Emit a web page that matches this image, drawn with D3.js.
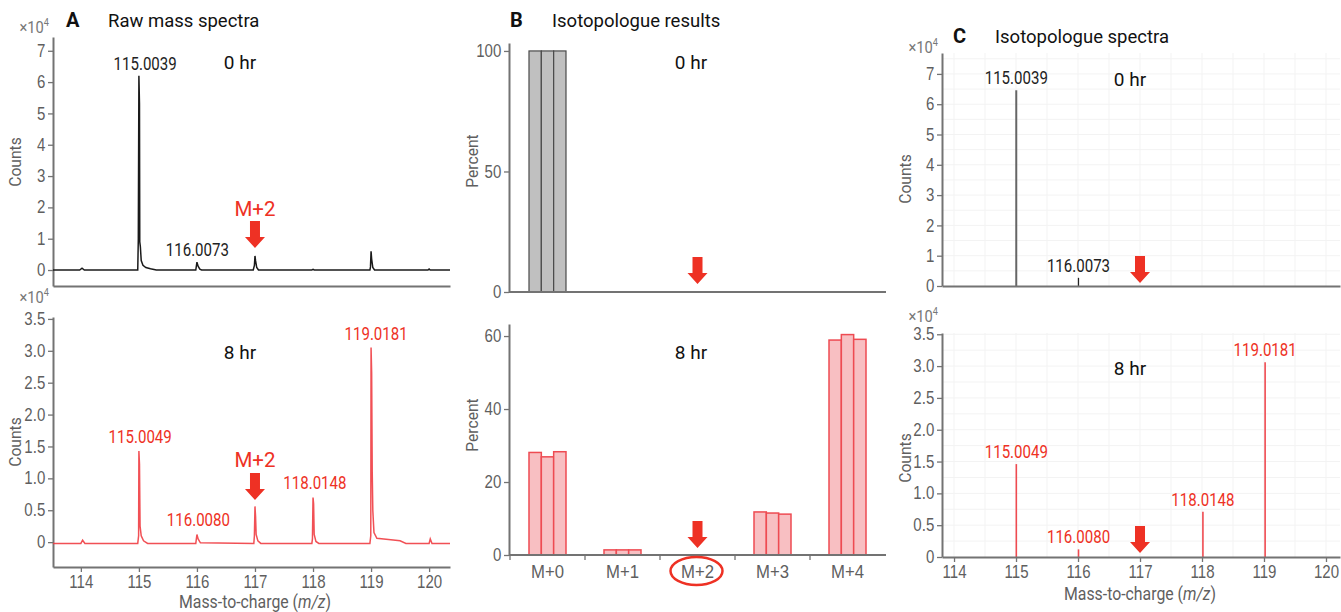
<!DOCTYPE html>
<html>
<head>
<meta charset="utf-8">
<script src="https://cdn.jsdelivr.net/npm/d3@7"></script>
<style>
  body { margin: 0; background: #fff; }
  svg { font-family: Roboto, "Liberation Sans", sans-serif; }
</style>
</head>
<body>
<div id="chart"></div>
<script>
// ---- data (m/z, counts x10^4) ----
const rawProfile0 = [
  [113.52, 0], [113.98, 0], [114.02, 0.06], [114.06, 0], [114.98, 0], [114.99, 1.0],
  [115.0, 6.2], [115.01, 5.3], [115.015, 0.9], [115.025, 0.75], [115.04, 0.3],
  [115.07, 0.15], [115.12, 0.08], [115.2, 0.04], [115.3, 0], [115.98, 0], [116.0, 0.25],
  [116.02, 0.12], [116.05, 0.03], [116.08, 0], [116.97, 0], [116.99, 0.15], [117.0, 0.45],
  [117.01, 0.3], [117.03, 0.08], [117.06, 0], [117.98, 0], [118.0, 0.02], [118.02, 0],
  [118.98, 0], [118.99, 0.1], [119.0, 0.6], [119.01, 0.35], [119.03, 0.08], [119.06, 0],
  [119.98, 0], [120.0, 0.03], [120.02, 0], [120.36, 0]
];
const rawProfile8 = [
  [113.52, -0.02], [114.0, -0.02], [114.03, 0.03], [114.07, -0.02], [114.98, -0.02],
  [114.995, 0.1], [115.0, 1.43], [115.01, 1.22], [115.02, 0.25], [115.04, 0.1],
  [115.08, 0.02], [115.15, -0.02], [115.98, -0.02], [116.0, 0.12], [116.02, 0.05],
  [116.06, -0.01], [116.98, -0.02], [116.99, 0.1], [117.0, 0.56], [117.01, 0.4],
  [117.02, 0.12], [117.05, 0.02], [117.1, -0.02], [117.98, -0.02], [117.99, 0.05],
  [118.0, 0.7], [118.01, 0.6], [118.02, 0.12], [118.05, 0.01], [118.1, -0.02],
  [118.98, -0.02], [118.995, 0.1], [119.0, 3.05], [119.01, 2.65], [119.02, 1.1],
  [119.03, 0.5], [119.05, 0.15], [119.1, 0.06], [119.3, 0.04], [119.5, 0.02],
  [119.6, -0.02], [120.0, -0.02], [120.02, 0.05], [120.05, -0.02], [120.36, -0.02]
];
const rawLabels0 = [[115.0039, 6.2], [116.0073, 0.25]];
const rawLabels8 = [[115.0049, 1.43], [116.0080, 0.12], [118.0148, 0.7], [119.0181, 3.05]];

const isotopologues = ["M+0", "M+1", "M+2", "M+3", "M+4"];
const percent0 = [[100, 100, 100], [0, 0, 0], [0, 0, 0], [0, 0, 0], [0, 0, 0]];
const percent8 = [[28.1, 26.9, 28.3], [1.4, 1.4, 1.4], [0, 0, 0], [11.8, 11.5, 11.2], [58.9, 60.4, 59.1]];

const sticks0 = [[115.0039, 6.46], [116.0073, 0.27]];
const sticks8 = [[115.0049, 1.46], [116.0080, 0.12], [118.0148, 0.71], [119.0181, 3.06]];

const mzTicks = [114, 115, 116, 117, 118, 119, 120];
const countTicks0 = [0, 1, 2, 3, 4, 5, 6, 7];
const countTicks8 = [0, 0.5, 1.0, 1.5, 2.0, 2.5, 3.0, 3.5];

// ---- setup ----
const W = 1341, H = 612;
const RED = "#ee3124", AXIS = "#737373", TICKTXT = "#5f5f5f";
const SQ = 0.86; // horizontal squeeze, the original uses a condensed face
const svg = d3.select("#chart").append("svg").attr("width", W).attr("height", H);

const fmtCount = d => d === 0 ? "0" : d.toFixed(1);

function styleAxis(g, size) {
  g.select(".domain").attr("stroke", AXIS).attr("stroke-width", 2);
  g.selectAll(".tick line").attr("stroke", AXIS).attr("stroke-width", 1.3);
  g.selectAll(".tick text").attr("fill", TICKTXT).style("font-size", (size || 17.5) + "px")
    .attr("transform", `scale(${SQ},1)`);
}
function yAxis(y, x0, ticks, fmt) {
  const g = svg.append("g").attr("transform", `translate(${x0},0)`)
    .call(d3.axisLeft(y).tickValues(ticks).tickFormat(fmt).tickSize(5).tickPadding(4).tickSizeOuter(0));
  styleAxis(g);
}
function xAxisLine(x, y0, ticks) {
  const g = svg.append("g").attr("transform", `translate(0,${y0})`)
    .call(d3.axisBottom(x).tickValues(ticks).tickFormat(d3.format("d")).tickSize(5).tickPadding(4).tickSizeOuter(0));
  styleAxis(g);
}
function yLabel(text, x, y) {
  svg.append("text").attr("transform", `translate(${x},${y}) rotate(-90) scale(0.92,1)`)
    .attr("text-anchor", "middle").attr("fill", TICKTXT).style("font-size", "17px").text(text);
}
function exponent(x, y) {
  const t = svg.append("text").attr("transform", `translate(${x},${y}) scale(0.92,1)`).attr("text-anchor", "end")
    .attr("fill", "#777").style("font-size", "16px");
  t.append("tspan").text("×10");
  t.append("tspan").attr("dy", -7).style("font-size", "10px").text("4");
}
function label(text, x, y, color, size, sq) {
  return svg.append("text").attr("transform", `translate(${x},${y}) scale(${sq || 1},1)`)
    .attr("text-anchor", "middle").attr("fill", color).style("font-size", size + "px").text(text);
}
function arrow(cx, tipY) {
  const sw = 5, hw = 10, len = 27, hh = 11;
  const p = [[cx - sw, tipY - len], [cx + sw, tipY - len], [cx + sw, tipY - hh], [cx + hw, tipY - hh],
             [cx, tipY], [cx - hw, tipY - hh], [cx - sw, tipY - hh]];
  svg.append("path").attr("d", d3.line()(p) + "Z").attr("fill", RED);
}
function title(letter, text, x, y) {
  svg.append("text").attr("x", x).attr("y", y).attr("fill", "#111")
    .style("font-size", "20px").style("font-weight", "bold").text(letter);
  svg.append("text").attr("x", x + 42).attr("y", y).attr("fill", "#111")
    .style("font-size", "18.5px").text(text);
}
function massLabel(cx, y) {
  const t = svg.append("text").attr("transform", `translate(${cx},${y}) scale(0.88,1)`).attr("text-anchor", "middle")
    .attr("fill", TICKTXT).style("font-size", "18px");
  t.append("tspan").text("Mass-to-charge (");
  t.append("tspan").style("font-style", "italic").text("m/z");
  t.append("tspan").text(")");
}

// ---- Panel A: raw mass spectra ----
const xA = d3.scaleLinear().domain([113.52, 120.36]).range([53, 450]);
const yA0 = d3.scaleLinear().domain([-0.51, 7.44]).range([286, 37]);
const yA8 = d3.scaleLinear().domain([-0.39, 3.53]).range([567, 317]);

title("A", "Raw mass spectra", 66, 27);

yAxis(yA0, 53, countTicks0, d3.format("d"));
xAxisLine(xA, 286, []);
svg.append("path").datum(rawProfile0)
  .attr("d", d3.line().x(d => xA(d[0])).y(d => yA0(d[1])))
  .attr("fill", "none").attr("stroke", "#1a1a1a").attr("stroke-width", 1.5);
rawLabels0.forEach(d => label(d[0].toFixed(4), xA(d[0]) + (d[1] > 1 ? 6 : 0), yA0(d[1]) - 6, "#222", 17.5, SQ));
label("0 hr", 240, 69, "#111", 19);
label("M+2", xA(117), 216, RED, 20.5);
arrow(xA(117), 248);
yLabel("Counts", 21, 162);
exponent(49, 33);

yAxis(yA8, 53, countTicks8, fmtCount);
xAxisLine(xA, 567, mzTicks);
svg.append("path").datum(rawProfile8)
  .attr("d", d3.line().x(d => xA(d[0])).y(d => yA8(d[1])))
  .attr("fill", "none").attr("stroke", "#ef3d42").attr("stroke-width", 1.5).attr("opacity", 0.9);
rawLabels8.forEach(d => label(d[0].toFixed(4), xA(d[0]) + (d[1] > 2 ? 4 : 1), yA8(d[1]) - 8, RED, 17.5, SQ));
label("8 hr", 240, 359, "#111", 19);
label("M+2", xA(117), 467, RED, 20.5);
arrow(xA(117), 500);
yLabel("Counts", 21, 442);
exponent(49, 303);
massLabel(255, 608);

// ---- Panel B: isotopologue results ----
const xB = d3.scaleBand().domain(isotopologues).range([510, 885]).paddingInner(0.5067).paddingOuter(0.2533);
const xB1 = d3.scaleBand().domain([0, 1, 2]).range([0, xB.bandwidth()]);
const yB0 = d3.scaleLinear().domain([0, 103.3]).range([292, 43]);
const yB8 = d3.scaleLinear().domain([0, 63.3]).range([555, 324]);

title("B", "Isotopologue results", 510, 27);

function bars(data, y, fill, stroke, sw) {
  const g = svg.append("g");
  isotopologues.forEach((cat, i) => {
    data[i].forEach((v, j) => {
      if (v <= 0) return;
      g.append("rect")
        .attr("x", xB(cat) + xB1(j)).attr("width", xB1.bandwidth())
        .attr("y", y(v)).attr("height", y(0) - y(v))
        .attr("fill", fill).attr("stroke", stroke).attr("stroke-width", sw);
    });
  });
}

bars(percent0, yB0, "#c0c0c0", "#4a4a4a", 1.2);
yAxis(yB0, 509, [0, 50, 100], d3.format("d"));
svg.append("line").attr("x1", 509).attr("x2", 886).attr("y1", yB0(0)).attr("y2", yB0(0))
  .attr("stroke", AXIS).attr("stroke-width", 2);
label("0 hr", 691, 69, "#111", 19);
arrow(xB("M+2") + xB.bandwidth() / 2, 284);
yLabel("Percent", 478, 161);

bars(percent8, yB8, "#f8bfc2", "#ee4b52", 1.5);
yAxis(yB8, 509, [0, 20, 40, 60], d3.format("d"));
const gB = svg.append("g").attr("transform", `translate(0,${yB8(0)})`)
  .call(d3.axisBottom(xB).tickSize(0).tickPadding(10));
styleAxis(gB, 18);
gB.selectAll(".tick text").attr("transform", "scale(0.93,1)");
gB.select(".domain").attr("d", `M509,0H886`);
const step = xB.step();
isotopologues.forEach(cat => {
  const bx = xB(cat) - (step - xB.bandwidth()) / 2;
  svg.append("line").attr("x1", bx).attr("x2", bx).attr("y1", yB8(0)).attr("y2", yB8(0) + 5)
    .attr("stroke", AXIS).attr("stroke-width", 1.3);
});
svg.append("ellipse").attr("cx", xB("M+2") + xB.bandwidth() / 2 - 1).attr("cy", 571)
  .attr("rx", 26).attr("ry", 14).attr("fill", "none").attr("stroke", RED).attr("stroke-width", 2.5);
label("8 hr", 691, 359, "#111", 19);
arrow(xB("M+2") + xB.bandwidth() / 2, 548);
yLabel("Percent", 478, 425);

// ---- Panel C: isotopologue spectra ----
const xC = d3.scaleLinear().domain([113.806, 120.226]).range([942, 1340]);
const yC0 = d3.scaleLinear().domain([0, 7.69]).range([286, 53]);
const yC8 = d3.scaleLinear().domain([0, 3.52]).range([557, 333]);

title("C", "Isotopologue spectra", 953, 43);

function grid(y, yStep) {
  const g = svg.append("g").attr("stroke", "#f3f3f3").attr("stroke-width", 1);
  d3.range(114, 120.26, 0.5).forEach(v => {
    g.append("line").attr("x1", xC(v)).attr("x2", xC(v)).attr("y1", y.range()[0]).attr("y2", y.range()[1]);
  });
  d3.range(yStep, y.domain()[1], yStep).forEach(v => {
    g.append("line").attr("x1", 942).attr("x2", 1340).attr("y1", y(v)).attr("y2", y(v));
  });
}

grid(yC0, 0.5);
svg.append("g").selectAll("line").data(sticks0).join("line")
  .attr("x1", d => xC(d[0])).attr("x2", d => xC(d[0]))
  .attr("y1", yC0(0)).attr("y2", d => yC0(d[1]))
  .attr("stroke", (d, i) => i === 0 ? "#666" : "#222").attr("stroke-width", (d, i) => i === 0 ? 2 : 1.3);
yAxis(yC0, 942, countTicks0, d3.format("d"));
xAxisLine(xC, 286, []);
sticks0.forEach(d => label(d[0].toFixed(4), xC(d[0]), yC0(d[1]) - 6, "#222", 17.5, SQ));
label("0 hr", 1130, 86, "#111", 19);
arrow(xC(117), 283);
yLabel("Counts", 911, 179);
exponent(938, 53);

grid(yC8, 0.25);
svg.append("g").selectAll("line").data(sticks8).join("line")
  .attr("x1", d => xC(d[0])).attr("x2", d => xC(d[0]))
  .attr("y1", yC8(0)).attr("y2", d => yC8(d[1]))
  .attr("stroke", "#ef4a50").attr("stroke-width", 1.6);
yAxis(yC8, 942, countTicks8, fmtCount);
xAxisLine(xC, 557, mzTicks);
sticks8.forEach(d => label(d[0].toFixed(4), xC(d[0]), yC8(d[1]) - 6, RED, 17.5, SQ));
label("8 hr", 1130, 375, "#111", 19);
arrow(xC(117), 553);
yLabel("Counts", 911, 458);
exponent(938, 322);
massLabel(1140, 600);
</script>
</body>
</html>
